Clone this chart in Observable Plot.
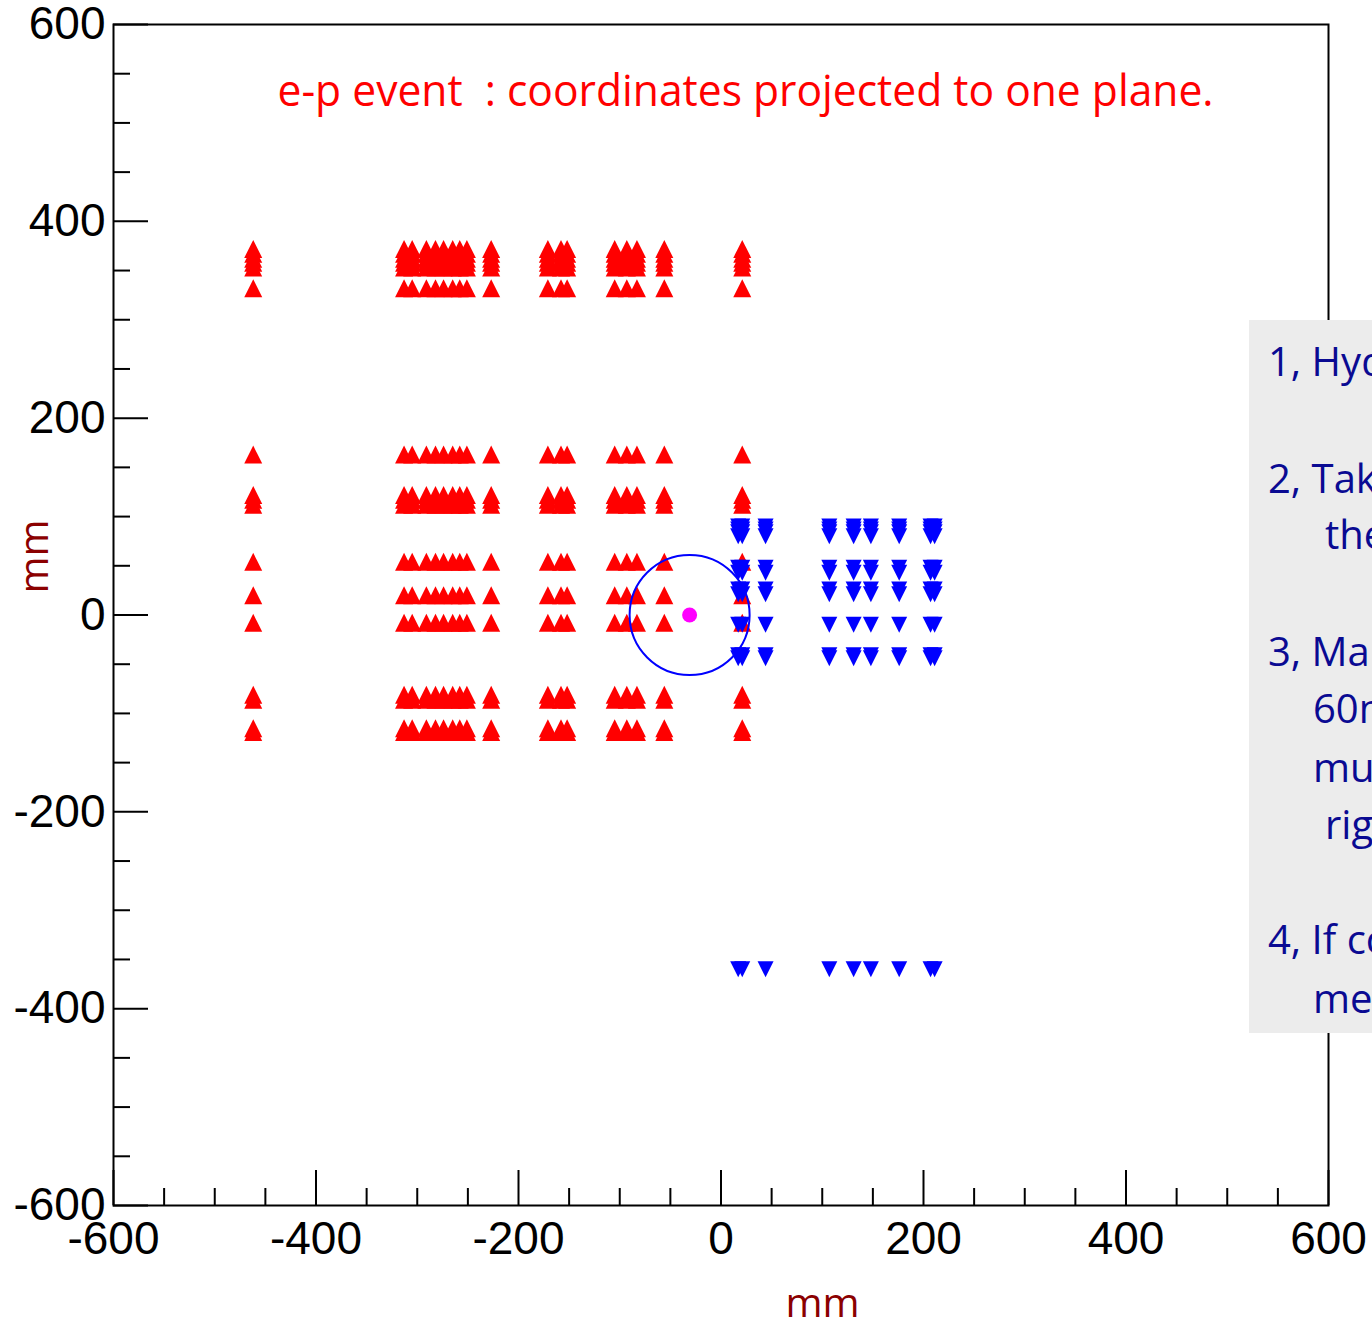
<!DOCTYPE html>
<html><head><meta charset="utf-8">
<script src="https://cdn.jsdelivr.net/npm/d3@7"></script>
<script src="https://cdn.jsdelivr.net/npm/@observablehq/plot@0.6"></script>
<style>
html,body{margin:0;padding:0;overflow:hidden;background:#fff;}
#wrap{position:relative;width:1372px;height:1322px;overflow:hidden;}
#note{position:absolute;left:1249px;top:320px;width:400px;height:713px;background:#ececec;font-family:"Open Sans";font-size:40px;line-height:40px;color:#0a0a92;}
#note div{position:absolute;white-space:nowrap;}
</style></head><body><div id="wrap"></div>
<script>
// ---- data (mm) ----
const redX = [-462, -313, -305, -291, -282, -274, -265, -258, -251, -227, -171, -158, -152, -105, -93, -83, -56, 21];
const redY = [372, 367, 362, 358, 353, 332, 163, 122, 117, 112, 54, 20, -8, -81, -86, -115, -119];
const blueX = [17, 21, 44, 107, 131, 148, 176, 207, 211];
const blueY = [90, 87, 84, 80, 48, 43, 26, 21, -10, -41, -44, -360];
const vertex = [{x: -31, y: 0}];
const xTicks = [-600, -400, -200, 0, 200, 400, 600];
const yTicks = [-600, -400, -200, 0, 200, 400, 600];
const minorTicks = [-550, -500, -450, -350, -300, -250, -150, -100, -50, 50, 100, 150, 250, 300, 350, 450, 500, 550];
const titleText = "e-p event  : coordinates projected to one plane.";
const axisTitle = "mm";
const noteLines = [
  {text: "1, Hydrogen target at the origin.", left: 19, base: 376},
  {text: "2, Take the hits of all layers and project", left: 19, base: 493},
  {text: "them to one plane.", left: 76, base: 549},
  {text: "3, Make a circle with radius", left: 19, base: 666},
  {text: "60mm around the vertex; hits", left: 64, base: 723},
  {text: "must lie on the left and", left: 64, base: 782},
  {text: "right of it.", left: 76, base: 839},
  {text: "4, If condition is satisfied, it", left: 19, base: 954},
  {text: "means an e-p elastic event.", left: 64, base: 1013}
];

const W = 1372, H = 1322, mL = 113, mR = 44, mT = 24, mB = 117;
const pw = W - mL - mR, ph = H - mT - mB;

const redPts = d3.cross(redX, redY).map(([x, y]) => ({x, y}));
const bluePts = d3.cross(blueX, blueY).map(([x, y]) => ({x, y}));

const triUp = {draw(ctx, size) { const r = Math.sqrt(size / Math.PI); ctx.moveTo(0, -r); ctx.lineTo(r, r); ctx.lineTo(-r, r); ctx.closePath(); }};
const triDown = {draw(ctx, size) { const r = Math.sqrt(size / Math.PI); ctx.moveTo(0, r); ctx.lineTo(r, -r); ctx.lineTo(-r, -r); ctx.closePath(); }};

const fmt = d => String(d);

const plot = Plot.plot({
  width: W, height: H,
  marginLeft: mL, marginRight: mR, marginTop: mT, marginBottom: mB,
  style: {fontFamily: "Liberation Sans", fontSize: "46px", background: "white", color: "black"},
  x: {domain: [-600, 600]},
  y: {domain: [-600, 600]},
  marks: [
    Plot.dot(redPts, {x: "x", y: "y", symbol: triUp, r: 9, fill: "#ff0000", stroke: "none"}),
    Plot.dot(bluePts, {x: "x", y: "y", symbol: triDown, r: 8, fill: "#0000ff", stroke: "none"}),
    Plot.dot(vertex, {x: "x", y: "y", r: 60, fill: "none", stroke: "#0000ff", strokeWidth: 2}),
    Plot.dot(vertex, {x: "x", y: "y", r: 7.5, fill: "#ff00ff", stroke: "none"}),
    Plot.tickY(yTicks, {y: d => d, insetRight: pw - 35, stroke: "black", strokeWidth: 2}),
    Plot.tickY(minorTicks, {y: d => d, insetRight: pw - 17, stroke: "black", strokeWidth: 2}),
    Plot.tickX(xTicks, {x: d => d, insetTop: ph - 35, stroke: "black", strokeWidth: 2}),
    Plot.tickX(minorTicks, {x: d => d, insetTop: ph - 17, stroke: "black", strokeWidth: 2}),
    Plot.axisY({ticks: yTicks, tickSize: 0, tickPadding: 8, tickFormat: fmt, fontSize: 46, label: null}),
    Plot.axisX({ticks: xTicks, tickSize: 0, tickPadding: 16, tickFormat: fmt, fontSize: 46, label: null}),
    Plot.frame({stroke: "black", strokeWidth: 2}),
    Plot.text([titleText], {frameAnchor: "top", dx: 24.5, dy: 51, text: d => d, fill: "#ff0000", fontSize: 43, fontFamily: "Open Sans"}),
    Plot.text([axisTitle], {frameAnchor: "bottom", dx: 101.5, dy: 111, text: d => d, fill: "#8b0000", fontSize: 40, fontFamily: "Open Sans"}),
    Plot.text([axisTitle], {frameAnchor: "left", dx: -78, dy: -21.5, rotate: -90, text: d => d, fill: "#8b0000", fontSize: 40, fontFamily: "Open Sans"})
  ]
});

d3.select(plot).selectAll("text").filter(function() { return this.textContent === titleText; })
  .attr("textLength", 936).attr("lengthAdjust", "spacingAndGlyphs").style("white-space", "pre");

const wrap = document.getElementById("wrap");
wrap.appendChild(plot);
const note = document.createElement("div");
note.id = "note";
for (const l of noteLines) {
  const d = document.createElement("div");
  d.textContent = l.text;
  d.style.left = l.left + "px";
  d.style.top = (l.base - 35.5 - 320) + "px";
  note.appendChild(d);
}
wrap.appendChild(note);
</script></body></html>
